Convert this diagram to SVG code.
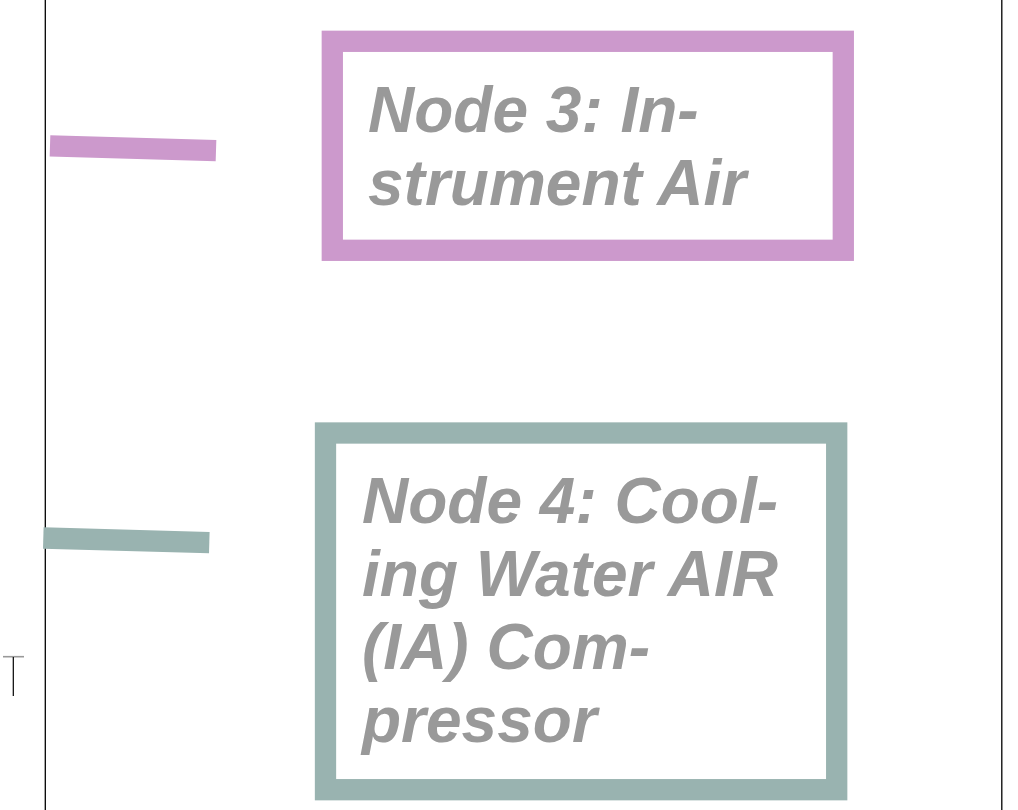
<svg xmlns="http://www.w3.org/2000/svg" width="1018" height="810" viewBox="0 0 1018 810">
<style>
.frame{fill:none;stroke:#000;stroke-width:1.3}
.box{fill:#fff;stroke-width:21.3}
.pink{stroke:#CC99CC}
.teal{stroke:#99B3B0}
.lbl{font-family:"Liberation Sans",Arial,sans-serif;font-weight:bold;font-style:italic;font-size:64px;fill:#999999}
.conn{fill:none;stroke-width:21.3;stroke-linecap:butt}
</style>
<rect width="1018" height="810" fill="#fff"/>
<g id="frame">
<line class="frame" x1="45.3" y1="0" x2="45.3" y2="810"/>
<line class="frame" x1="1001.8" y1="0" x2="1001.8" y2="810"/>
<line x1="3" y1="656.7" x2="24" y2="656.7" stroke="#999" stroke-width="1.6"/>
<line x1="13.3" y1="657" x2="13.3" y2="696" stroke="#000" stroke-width="1.2"/>
</g>
<g id="connectors">
<line class="conn pink" x1="50" y1="145.8" x2="216" y2="150.7"/>
<line class="conn teal" x1="43.3" y1="538" x2="209.3" y2="542.6"/>
</g>
<g id="node3">
<rect class="box pink" x="332.3" y="41.3" width="511" height="209"/>
<text class="lbl" x="368" y="132">Node 3: In-</text>
<text class="lbl" x="368" y="205">strument Air</text>
</g>
<g id="node4">
<rect class="box teal" x="325.5" y="433" width="511.2" height="356.7"/>
<text class="lbl" x="362" y="523">Node 4: Cool-</text>
<text class="lbl" x="362" y="596">ing Water AIR</text>
<text class="lbl" x="362" y="669">(IA) Com-</text>
<text class="lbl" x="362" y="742">pressor</text>
</g>
</svg>
